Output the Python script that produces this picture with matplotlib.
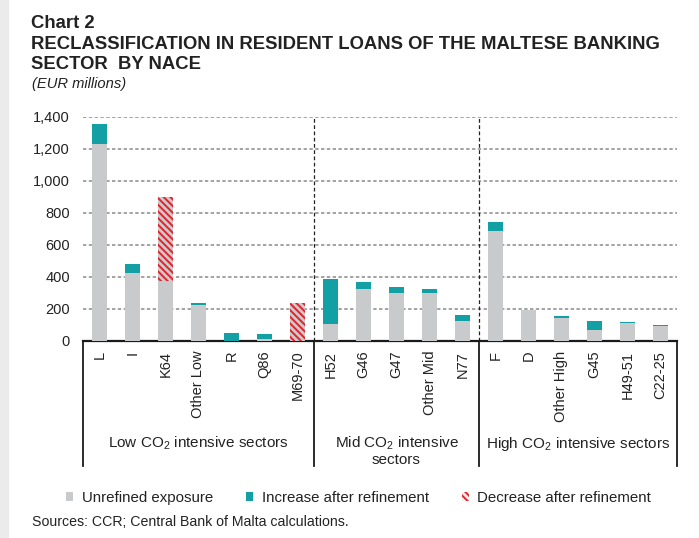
import numpy as np
import matplotlib
matplotlib.use("Agg")
import matplotlib.pyplot as plt
from matplotlib.patches import Patch

plt.rcParams['font.family'] = ['Liberation Sans', 'DejaVu Sans']
plt.rcParams['mathtext.fontset'] = 'custom'
plt.rcParams['mathtext.rm'] = 'Liberation Sans'
plt.rcParams['hatch.linewidth'] = 1.4

# NACE sectors, grouped by CO2 intensity
sectors = ['L', 'I', 'K64', 'Other Low', 'R', 'Q86', 'M69-70',
           'H52', 'G46', 'G47', 'Other Mid', 'N77',
           'F', 'D', 'Other High', 'G45', 'H49-51', 'C22-25']
unrefined = [1230, 426, 372, 222, 2, 15, 0,
             105, 324, 301, 303, 123,
             685, 192, 145, 67, 110, 92]
increase = [125, 55, 0, 14, 48, 27, 0,
            285, 42, 38, 23, 42,
            61, 0, 12, 58, 9, 6]
decrease = [0, 0, 531, 0, 0, 0, 236,
            0, 0, 0, 0, 0,
            0, 0, 0, 0, 0, 0]
groups = ['Low CO$\\mathregular{_2}$ intensive sectors',
          'Mid CO$\\mathregular{_2}$ intensive\nsectors',
          'High CO$\\mathregular{_2}$ intensive sectors']
group_edges = [-0.5, 6.5, 11.5, 17.5]

GREY = '#c9cacc'
TEAL = '#13a0a5'
RED = '#e8202a'
TXT = '#222222'
HATCH = '\\' * 5

fig = plt.figure(figsize=(6.99, 5.38), dpi=100)
fig.patches.append(plt.Rectangle((0, 0), 8 / 699, 1, transform=fig.transFigure,
                                 color='#ebebeb', zorder=0))
ax = fig.add_axes([83 / 699, 1 - 341 / 538, 594 / 699, 224 / 538])

x = np.arange(len(sectors))
w = 0.43
ax.bar(x, unrefined, w, color=GREY, zorder=3)
ax.bar(x, increase, w, bottom=unrefined, color=TEAL, zorder=3)
ax.bar(x, decrease, w, bottom=unrefined, facecolor=GREY, edgecolor=RED,
       linewidth=0, hatch=HATCH, zorder=3)

ax.set_xlim(-0.5, 17.5)
ax.set_ylim(0, 1400)
ax.set_yticks(range(0, 1401, 200))
ax.set_yticklabels([f'{v:,}' for v in range(0, 1401, 200)])
ax.yaxis.grid(True, color='#8a8a8a', linestyle=(0, (2.2, 1.6)), linewidth=1.1,
              zorder=0)
ax.tick_params(axis='y', length=0, pad=9.5, labelsize=10.5, labelcolor=TXT)
ax.set_xticks(x)
ax.set_xticklabels(sectors, rotation=90, va='top', ha='center')
ax.tick_params(axis='x', length=0, pad=7, labelsize=10.5, labelcolor=TXT)

for s in ['top', 'right', 'left']:
    ax.spines[s].set_visible(False)
ax.spines['bottom'].set_linewidth(1.6)
ax.spines['bottom'].set_color('#1a1a1a')

# group separators: dashed above the axis, solid box below it
for e in group_edges[1:-1]:
    ax.axvline(e, color='#222222', linestyle=(0, (3, 2)), linewidth=0.9,
               zorder=2)
low = -(466 - 341) / 224
trans = ax.get_xaxis_transform()
for e in group_edges:
    ax.plot([e, e], [0, low], color='#1a1a1a', linewidth=1.3,
            transform=trans, clip_on=False)

for i, g in enumerate(groups):
    c = (group_edges[i] + group_edges[i + 1]) / 2
    ax.text(c, -(435 - 341) / 224, g, transform=trans, ha='center', va='top',
            fontsize=11, color=TXT, linespacing=1.05)

# titles
for y, s in [(28, 'Chart 2'),
             (49, 'RECLASSIFICATION IN RESIDENT LOANS OF THE MALTESE BANKING'),
             (69, 'SECTOR  BY NACE')]:
    fig.text(31 / 699, 1 - y / 538, s, fontsize=13.3, fontweight='bold',
             va='baseline', color=TXT)
fig.text(32 / 699, 1 - 88 / 538, '(EUR millions)', fontsize=10.6,
         style='italic', va='baseline', color=TXT)

handles = [Patch(facecolor=GREY, label='Unrefined exposure'),
           Patch(facecolor=TEAL, label='Increase after refinement'),
           Patch(facecolor='#f2f2f2', edgecolor=RED, linewidth=0,
                 hatch=HATCH, label='Decrease after refinement')]
fig.legend(handles=handles, loc='center', ncol=3, frameon=False,
           bbox_to_anchor=(358.5 / 699, 1 - 498 / 538), fontsize=10.8,
           handlelength=0.5, handleheight=0.5, handletextpad=0.55,
           columnspacing=2.2, labelcolor=TXT)

fig.text(32 / 699, 1 - 522 / 538,
         'Sources: CCR; Central Bank of Malta calculations.', fontsize=10.2,
         va='center', color=TXT)

fig.savefig('out.png', dpi=100)
